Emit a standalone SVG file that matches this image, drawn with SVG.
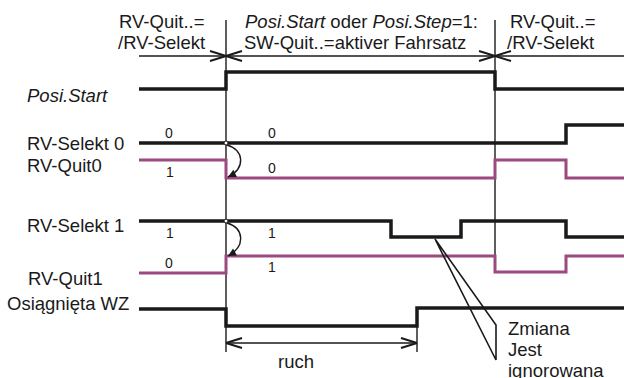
<svg xmlns="http://www.w3.org/2000/svg" width="624" height="378" viewBox="0 0 624 378">
<style>
text{font-family:"Liberation Sans",Arial,sans-serif;font-size:18.5px;fill:#1a1a1a}
.n{font-size:14px}
.it{font-style:italic}
.sig{fill:none;stroke:#1a1a1a;stroke-width:3.5;stroke-linejoin:miter}
.pur{fill:none;stroke:#9a4a7e;stroke-width:3;stroke-linejoin:miter}
.thin{fill:none;stroke:#1a1a1a;stroke-width:1.4}
.dim{fill:none;stroke:#1a1a1a;stroke-width:1.6}
</style>
<defs>
<marker id="ah" viewBox="-17 -6 18 12" refX="0" refY="0" markerWidth="18" markerHeight="12" markerUnits="userSpaceOnUse" orient="auto-start-reverse">
<path d="M0,0 L-16,-5 M0,0 L-16,5" fill="none" stroke="#1a1a1a" stroke-width="2"/>
</marker>
<marker id="cah" viewBox="-9 -5 10 10" refX="0" refY="0" markerWidth="10" markerHeight="10" markerUnits="userSpaceOnUse" orient="auto">
<path d="M0,0 L-8,-4 L-8,4 Z" fill="#1a1a1a"/>
</marker>
</defs>

<g id="header-labels">
<text x="119" y="28">RV-Quit..=</text>
<text x="118" y="49">/RV-Selekt</text>
<text x="245" y="28"><tspan class="it">Posi.Start</tspan> oder <tspan class="it">Posi.Step</tspan>=1:</text>
<text x="244" y="49">SW-Quit..=aktiver Fahrsatz</text>
<text x="510" y="28">RV-Quit..=</text>
<text x="507" y="49">/RV-Selekt</text>
</g>

<g id="signal-labels">
<text x="27" y="102" class="it">Posi.Start</text>
<text x="27" y="150">RV-Selekt 0</text>
<text x="27" y="172">RV-Quit0</text>
<text x="27" y="232">RV-Selekt 1</text>
<text x="28" y="285">RV-Quit1</text>
<text x="7" y="310">Osiągnięta WZ</text>
</g>

<g id="values">
<text class="n" x="165" y="138">0</text>
<text class="n" x="268" y="138">0</text>
<text class="n" x="166" y="177">1</text>
<text class="n" x="268" y="173">0</text>
<text class="n" x="166" y="238">1</text>
<text class="n" x="268" y="238">1</text>
<text class="n" x="165" y="268">0</text>
<text class="n" x="268" y="272">1</text>
</g>

<g id="time-markers">
<line class="thin" x1="226" y1="20" x2="226" y2="352"/>
<line class="thin" x1="495" y1="20" x2="495" y2="272"/>
<line class="thin" x1="417" y1="308" x2="417" y2="352"/>
</g>

<g id="signal-posi-start"><path class="sig" d="M139,89 H226 V72 H495 V89 H624"/></g>
<g id="signal-rv-selekt0"><path class="sig" d="M139,143 H566 V125 H624"/></g>
<g id="signal-rv-quit0"><path class="pur" d="M139,160 H226 V178 H495 V160 H566 V178 H624"/></g>
<g id="signal-rv-selekt1"><path class="sig" d="M139,221 H391 V237 H461 V221 H566 V237 H624"/></g>
<g id="signal-rv-quit1"><path class="pur" d="M139,273 H226 V256 H495 V272 H566 V256 H624"/></g>
<g id="signal-wz"><path class="sig" d="M139,309 H226 V326 H417 V308 H624"/></g>

<g id="connectors">
<line class="dim" x1="139" y1="56" x2="226" y2="56" marker-end="url(#ah)"/>
<line class="dim" x1="226" y1="56" x2="495" y2="56" marker-start="url(#ah)" marker-end="url(#ah)"/>
<line class="dim" x1="495" y1="56" x2="624" y2="56" marker-start="url(#ah)"/>
<line class="dim" x1="226" y1="343" x2="417" y2="343" marker-start="url(#ah)" marker-end="url(#ah)"/>
<path class="thin" d="M227,145 C244,150 246,168 228,177" marker-end="url(#cah)"/>
<path class="thin" d="M227,223 C244,228 246,246 228,256" marker-end="url(#cah)"/>
<circle cx="226" cy="143" r="2" fill="#fff" stroke="#1a1a1a" stroke-width="1"/>
<circle cx="226" cy="221" r="2" fill="#fff" stroke="#1a1a1a" stroke-width="1"/>
<path class="dim" d="M435,239 L496,325 L496,360 Z" stroke-linejoin="miter"/>
</g>

<g id="notes">
<text x="278" y="368">ruch</text>
<text x="508" y="335">Zmiana</text>
<text x="508" y="356">Jest</text>
<text x="508" y="377">ignorowana</text>
</g>
</svg>
